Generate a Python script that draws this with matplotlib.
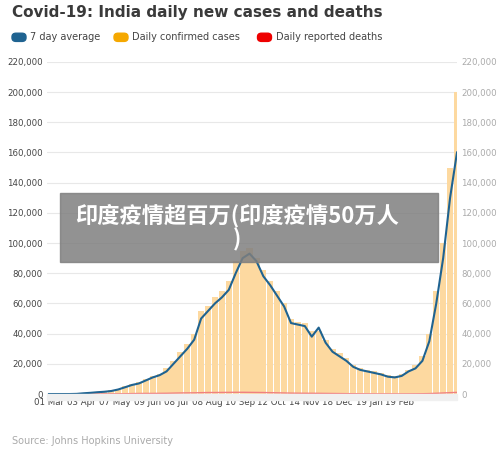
import matplotlib
matplotlib.use("Agg")
import matplotlib.pyplot as plt
import numpy as np
from matplotlib.patches import FancyBboxPatch, Rectangle

# weekly samples starting 01 Mar 2020 (day index = 7*i)
avg7 = [0,0,0,0,0.1,0.5,0.8,1.2,1.5,2,3,4.5,6,7,9,11,12.5,15,20,25,30,36,
        50,55,60,64,69,80,90,93,88,78,72,65,58,47,46,45,38,44,34,28,25,22,
        18,16,15,14,13,11.5,11,12,15,17,22,35,60,90,130,160]
daily = [0,0,0,0.2,0.3,0.7,1,1.4,1.8,2.5,3.5,5,6.5,8,10,12,13.5,17,22,28,33,40,
         55,58,64,68,75,88,95,97,90,82,75,68,60,50,48,47,42,42,36,30,27,24,
         19,17,16,15,14,12.5,12,13,16,19,25,40,68,100,150,200]
deaths = [0,0,0,0,0,0.02,0.05,0.08,0.1,0.12,0.15,0.2,0.3,0.35,0.4,0.4,0.45,0.5,0.6,0.7,0.75,0.8,
          0.9,1.0,1.0,1.05,1.1,1.15,1.15,1.1,1.05,1.0,0.9,0.8,0.7,0.6,0.55,0.5,0.5,0.45,0.4,0.35,0.3,0.25,
          0.2,0.18,0.15,0.12,0.1,0.1,0.1,0.1,0.12,0.15,0.2,0.3,0.5,0.7,0.9,1.1]
tick_days = [0,33,67,100,129,160,193,225,258,292,324,355]
tick_labels = ["01 Mar","03 Apr","07 May","09 Jun","08 Jul","08 Aug","10 Sep",
               "12 Oct","14 Nov","18 Dec","19 Jan","19 Feb"]
yticks = list(range(0,220001,20000))

days = np.arange(len(avg7))*7
fig = plt.figure(figsize=(5,4.55), dpi=100)
ax = fig.add_axes([0.094,0.134,0.82,0.73])
ax.bar(days, np.array(daily)*1000, width=6.3, color="#fdd9a0", align="center", zorder=2)
ax.plot(days, np.array(deaths)*1000, color="#f08080", lw=1, zorder=3)
ax.plot(days, np.array(avg7)*1000, color="#1f6391", lw=1.5, zorder=4)
ax.set_xlim(-2, 413)
ax.set_ylim(0, 220000)
ax.set_yticks(yticks)
ax.set_yticklabels([f"{v:,}" for v in yticks], fontsize=6.2, color="#444")
ax.set_xticks(tick_days)
ax.set_xticklabels(tick_labels, fontsize=6.2, color="#444")
ax.tick_params(length=0, pad=3)
ax.grid(axis="y", color="#e8e8e8", lw=0.8, zorder=0)
for s in ax.spines.values(): s.set_visible(False)
ax2 = ax.twinx()
ax2.set_ylim(0, 220000)
ax2.set_yticks(yticks)
ax2.set_yticklabels([f"{v:,}" for v in yticks], fontsize=6.2, color="#aaa")
ax2.tick_params(length=0, pad=3)
for s in ax2.spines.values(): s.set_visible(False)
fig.patches.append(Rectangle((0.094,0.121),0.82,0.012, transform=fig.transFigure, color="#f0f0f0"))

fig.text(0.024, 0.972, "Covid-19: India daily new cases and deaths", fontsize=11,
         fontweight="bold", color="#3a3a3a", va="center")
lx = [(0.024,"#1f6391","7 day average"),(0.228,"#f5a800","Daily confirmed cases"),
      (0.515,"#ee0000","Daily reported deaths")]
for x,c,t in lx:
    fig.patches.append(FancyBboxPatch((x,0.909),0.028,0.018, boxstyle="round,pad=0,rounding_size=0.008",
                                      transform=fig.transFigure, color=c))
    fig.text(x+0.036, 0.918, t, fontsize=7, color="#444", va="center")
fig.text(0.024, 0.03, "Source: Johns Hopkins University", fontsize=7, color="#aaa", va="center")

fig.patches.append(Rectangle((0.12,0.424),0.756,0.152, transform=fig.transFigure,
                             color="#7f7f7f", alpha=0.85, zorder=10))
fig.text(0.475, 0.5, "印度疫情超百万(印度疫情50万人\n)", fontsize=16, fontweight="bold", color="white",
         ha="center", va="center", family=["Noto Sans CJK SC","DejaVu Sans"], zorder=11,
         linespacing=1.05)
fig.savefig("out.png", dpi=100)
